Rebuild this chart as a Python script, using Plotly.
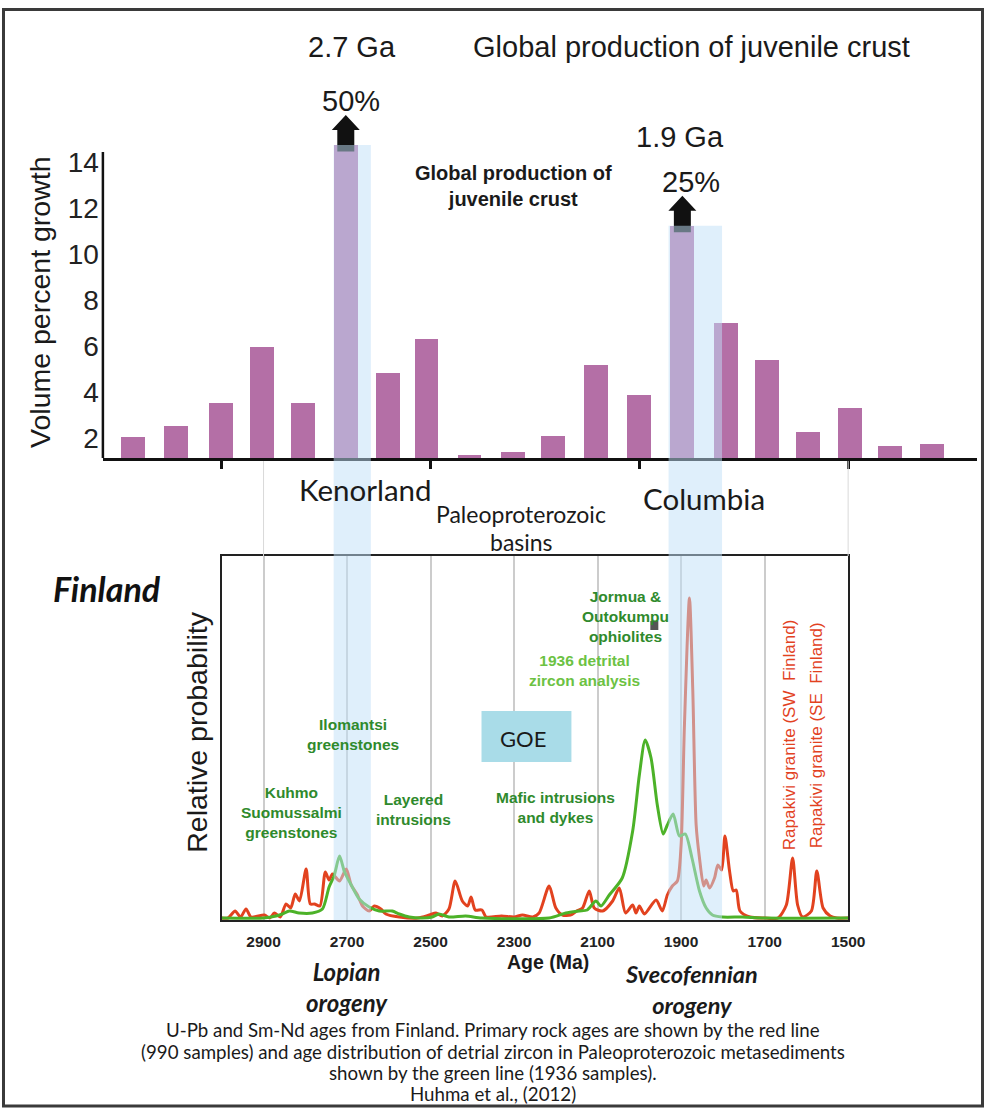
import plotly.graph_objects as go

W, H = 987, 1112          # reference picture size (layout coordinates)
FIG_W = 1003              # page width that is photographed into 987 px

# ---------------- data ----------------
# Global production of juvenile crust (top panel)
bar_age_ma = [3213, 3110, 3002, 2904, 2806, 2703, 2603, 2510, 2407, 2304,
              2206, 2103, 2000, 1897, 1792, 1694, 1596, 1495, 1400, 1299]
bar_volume_pct = [2.03, 2.52, 3.51, 5.96, 3.51, 14.74, 4.81, 6.29, 1.26, 1.41,
                  2.09, 5.17, 3.86, 11.23, 7.01, 5.39, 2.26, 3.32, 1.65, 1.74]
volume_ticks = [2, 4, 6, 8, 10, 12, 14]
top_age_ticks = [3000, 2500, 2000, 1500]

# Finland: primary rock ages (red) and detrital zircon (green), relative probability
red_age = [3001, 2985, 2968, 2955, 2942, 2930, 2898, 2885, 2874, 2860, 2846, 2835,
           2824, 2814, 2798, 2788, 2778, 2765, 2752, 2743, 2735, 2718, 2702, 2690,
           2675, 2663, 2647, 2635, 2619, 2607, 2575, 2530, 2503, 2487, 2472, 2456,
           2441, 2424, 2411, 2403, 2393, 2377, 2367, 2330, 2300, 2280, 2255, 2240,
           2216, 2200, 2184, 2165, 2150, 2136, 2120, 2108, 2088, 2064, 2048, 2033,
           2016, 2008, 2000, 1988, 1960, 1945, 1933, 1921, 1909, 1900, 1892, 1880,
           1872, 1864, 1856, 1846, 1840, 1832, 1820, 1812, 1803, 1795, 1784, 1775,
           1768, 1759, 1735, 1700, 1668, 1648, 1633, 1621, 1609, 1588, 1575, 1560,
           1543, 1527, 1500]
red_prob = [0, 0, 7, 1, 9, 1, 3, 0, 5, 1, 14, 10,
            24, 17, 49, 14, 14, 12, 46, 38, 44, 37, 49, 33,
            23, 12, 7, 12, 9, 4, 1, 0, 3, 5, 2, 9,
            37, 17, 12, 21, 8, 8, 1, 2, 1, 3, 1, 5,
            32, 10, 3, 3, 7, 10, 27, 10, 7, 17, 30, 5,
            13, 5, 12, 4, 18, 7, 23, 32, 37, 73, 193, 320,
            227, 93, 60, 32, 38, 30, 40, 53, 48, 82, 47, 27,
            28, 7, 1, 0, 0, 13, 60, 13, 1, 7, 47, 10,
            2, 0, 0]
green_age = [3001, 2900, 2870, 2855, 2838, 2815, 2783, 2759, 2743, 2731, 2718, 2706,
             2690, 2671, 2647, 2623, 2592, 2575, 2551, 2520, 2496, 2480, 2456, 2416,
             2377, 2216, 2176, 2144, 2125, 2104, 2092, 2072, 2041, 2016, 2000, 1986,
             1972, 1957, 1943, 1933, 1919, 1904, 1890, 1874, 1856, 1840, 1825, 1801,
             1753, 1700, 1500]
green_prob = [0, 0, 2, 4, 7, 5, 5, 9, 31, 42, 62, 46,
              33, 19, 11, 7, 7, 4, 1, 0, 1, 4, 1, 2,
              0, 0, 5, 7, 8, 17, 12, 23, 40, 87, 143, 178,
              160, 113, 84, 93, 104, 82, 84, 60, 27, 10, 3, 1,
              1, 0, 0]
age_ticks = [2900, 2700, 2500, 2300, 2100, 1900, 1700, 1500]

# supercontinent bands (Ma)
band_kenorland = (2732, 2643)
band_columbia = (1930, 1802)

# ---------------- geometry ----------------
LOW_X = (222, 849)
LOW_Y = (556, 920)
TOP_X = (103, 978)
TOP_Y = (139, 458)
LOW_RANGE = [3000, 1500]
SCALE = (LOW_X[1] - LOW_X[0]) / (LOW_RANGE[0] - LOW_RANGE[1])
TOP_RANGE = [LOW_RANGE[0] + (LOW_X[0] - TOP_X[0]) / SCALE,
             LOW_RANGE[1] - (TOP_X[1] - LOW_X[1]) / SCALE]
TOP_YRANGE = [1.13, 15.0]


def xpix(age):
    return LOW_X[0] + (LOW_RANGE[0] - age) * SCALE


def top_ypix(v):
    return TOP_Y[1] - (v - TOP_YRANGE[0]) / (TOP_YRANGE[1] - TOP_YRANGE[0]) * (TOP_Y[1] - TOP_Y[0])


def PX(x):
    return x / W


def PY(y):
    return 1 - y / H


ARIAL = "Liberation Sans, Arial, sans-serif"
CAL = "Lato, Carlito, Calibri, sans-serif"
DKGREEN = "#2f8a2c"
LTGREEN = "#6cc243"
RED = "#e2421f"

fig = go.Figure()

fig.add_trace(go.Bar(x=bar_age_ma, y=bar_volume_pct, width=57.4,
                     marker=dict(color="#b46fa6", line=dict(width=0)),
                     xaxis="x", yaxis="y", showlegend=False))

fig.add_trace(go.Scatter(x=red_age, y=red_prob, mode="lines",
                         line=dict(color=RED, width=3, shape="spline", smoothing=0.7),
                         xaxis="x2", yaxis="y2", showlegend=False))
fig.add_trace(go.Scatter(x=green_age, y=green_prob, mode="lines",
                         line=dict(color="#4cb228", width=3, shape="spline", smoothing=0.7),
                         xaxis="x2", yaxis="y2", showlegend=False))

shapes = []
# outer frame
shapes.append(dict(type="rect", xref="paper", yref="paper", x0=PX(3.5), x1=PX(983.5),
                   y0=PY(9.5), y1=PY(1106), line=dict(color="#3a3a3a", width=3)))
# top y axis line
shapes.append(dict(type="line", xref="paper", yref="paper", x0=PX(TOP_X[0]), x1=PX(TOP_X[0]),
                   y0=PY(152), y1=PY(TOP_Y[1]), line=dict(color="#111", width=2.5)))
# faint connector lines
for a in (2900, 1500):
    shapes.append(dict(type="line", xref="paper", yref="paper", x0=PX(xpix(a)), x1=PX(xpix(a)),
                       y0=PY(TOP_Y[1] + 3), y1=PY(LOW_Y[0]), line=dict(color="#d9d9d9", width=1)))

# arrows above the two highlighted bars
for idx in (5, 13):
    cx = xpix(bar_age_ma[idx])
    top = top_ypix(bar_volume_pct[idx])
    tip = top - 30
    hb = tip + 15
    bot = top + 6.5
    path = (f"M {PX(cx-8.5)} {PY(bot)} L {PX(cx-8.5)} {PY(hb)} L {PX(cx-14)} {PY(hb)} "
            f"L {PX(cx)} {PY(tip)} L {PX(cx+14)} {PY(hb)} L {PX(cx+8.5)} {PY(hb)} "
            f"L {PX(cx+8.5)} {PY(bot)} Z")
    shapes.append(dict(type="path", xref="paper", yref="paper", path=path,
                       fillcolor="#111", line=dict(width=0), layer="above"))

# translucent bands
for (a0, a1), idx in ((band_kenorland, 5), (band_columbia, 13)):
    top = top_ypix(bar_volume_pct[idx])
    shapes.append(dict(type="rect", xref="paper", yref="paper",
                       x0=PX(xpix(a0)), x1=PX(xpix(a1)), y0=PY(LOW_Y[1]), y1=PY(top),
                       fillcolor="#bfe0f7", opacity=0.5, line=dict(width=0), layer="above"))

# GOE box
shapes.append(dict(type="rect", xref="paper", yref="paper", x0=PX(482), x1=PX(572),
                   y0=PY(762), y1=PY(711), fillcolor="#a9dce8", line=dict(width=0), layer="above"))
# small grey square
shapes.append(dict(type="rect", xref="paper", yref="paper", x0=PX(651), x1=PX(659),
                   y0=PY(630), y1=PY(621), fillcolor="#555", line=dict(width=0), layer="above"))

ann = []


def txt(s, x, y, size, color="#1a1a1a", family=ARIAL, angle=0):
    ann.append(dict(text=s, x=PX(x), y=PY(y), xref="paper", yref="paper", showarrow=False,
                    font=dict(size=size, color=color, family=family), textangle=angle,
                    xanchor="center", yanchor="middle", align="center"))


txt("2.7 Ga", 352, 47, 29)
txt("Global production of juvenile crust", 692, 47, 29)
txt("50%", 351, 101, 29)
txt("1.9 Ga", 681, 137, 29)
txt("25%", 692, 182, 29)
txt("<b>Global production of<br>juvenile crust</b>", 514, 186, 20)
txt("Volume percent growth", 40, 302, 28.5, angle=-90)
txt("Kenorland", 366, 489, 29.5, family=CAL)
txt("Paleoproterozoic", 522, 514, 23, family=CAL)
txt("basins", 522, 542, 23, family=CAL)
txt("Columbia", 705, 498, 29.5, family=CAL)
txt("<b><i>Finland</i></b>", 107, 588, 34, color="#111", family=CAL)
txt("Relative probability", 197, 732, 28.5, angle=-90)

for s, x, y in (("Kuhmo<br>Suomussalmi<br>greenstones", 292, 812),
                ("Ilomantsi<br>greenstones", 353, 734),
                ("Layered<br>intrusions", 414, 809),
                ("Mafic intrusions<br>and dykes", 556, 807),
                ("Jormua &<br>Outokumpu<br>ophiolites", 626, 616)):
    txt(f"<b>{s}</b>", x, y, 15.5, color=DKGREEN)
txt("<b>1936 detrital<br>zircon analysis</b>", 585, 670, 15.5, color=LTGREEN)
txt("GOE", 524, 738, 22, family=CAL)
txt("Rapakivi granite (SW\u00a0\u00a0Finland)", 790, 735, 17, color=RED, angle=-90)
txt("Rapakivi granite (SE\u00a0\u00a0Finland)", 817, 735, 17, color=RED, angle=-90)
txt("<b>Age (Ma)</b>", 549, 962, 19.5)
txt("<b><i>Lopian<br>orogeny</i></b>", 347, 987, 24, family=CAL)
txt("<b><i>Svecofennian<br>orogeny</i></b>", 692, 989, 23.5, family=CAL)
txt("U-Pb and Sm-Nd ages from Finland. Primary rock ages are shown by the red line", 493, 1030, 18.7, family=CAL)
txt("(990 samples) and age distribution of detrial zircon in Paleoproterozoic metasediments", 493, 1052, 18.7, family=CAL)
txt("shown by the green line (1936 samples).", 493, 1073, 18.7, family=CAL)
txt("Huhma et al., (2012)", 493, 1094, 18.7, family=CAL)

fig.update_layout(
    width=FIG_W, height=H, autosize=False, margin=dict(l=0, r=0, t=0, b=0),
    paper_bgcolor="white", plot_bgcolor="rgba(0,0,0,0)",
    bargap=0, showlegend=False,
    xaxis=dict(domain=[PX(TOP_X[0]), PX(TOP_X[1])], range=TOP_RANGE, anchor="y",
               showline=True, linecolor="#111", linewidth=2.5, ticks="outside",
               tickvals=top_age_ticks, ticklen=8, tickwidth=2.5, tickcolor="#111",
               showticklabels=False, showgrid=False, zeroline=False, fixedrange=True),
    yaxis=dict(domain=[PY(TOP_Y[1]), PY(TOP_Y[0])], range=TOP_YRANGE, anchor="x",
               showline=False, ticks="", tickvals=volume_ticks, ticklabelstandoff=3,
               tickfont=dict(family=ARIAL, size=28, color="#222"),
               showgrid=False, zeroline=False),
    xaxis2=dict(domain=[PX(LOW_X[0]), PX(LOW_X[1])], range=LOW_RANGE, anchor="y2",
                showline=True, mirror=True, linecolor="#222", linewidth=2,
                tickvals=age_ticks, ticks="", ticklabelstandoff=6,
                tickfont=dict(family=ARIAL, size=15.5, color="#222", weight="bold"),
                showgrid=True, gridcolor="#cccccc", gridwidth=1.5, zeroline=False),
    yaxis2=dict(domain=[PY(LOW_Y[1]), PY(LOW_Y[0])], range=[-2, 362], anchor="x2",
                showline=True, mirror=True, linecolor="#222", linewidth=2,
                showticklabels=False, ticks="", showgrid=False, zeroline=False),
    shapes=shapes, annotations=ann,
)

fig.write_html("out.html",
               config={"responsive": False, "displayModeBar": False},
               post_script="document.body.style.margin='0';document.body.style.overflow='hidden';")
